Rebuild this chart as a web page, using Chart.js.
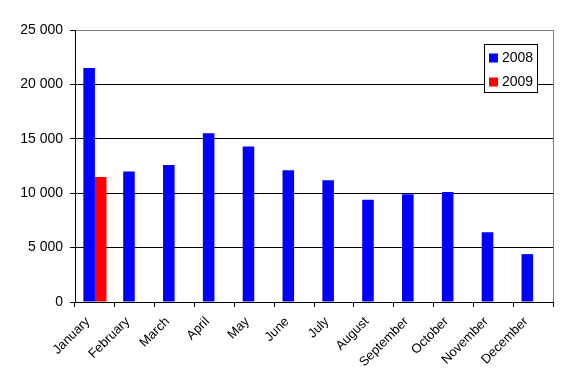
<!DOCTYPE html>
<html>
<head>
<meta charset="utf-8">
<script src="https://cdn.jsdelivr.net/npm/chart.js@4/dist/chart.umd.min.js"></script>
<style>
  html, body { margin: 0; padding: 0; background: #fff; }
  #wrap { width: 569px; height: 388px; }
</style>
</head>
<body>
<div id="wrap"><canvas id="salesChart" width="569" height="388"></canvas></div>
<script>
const months = ['January', 'February', 'March', 'April', 'May', 'June',
    'July', 'August', 'September', 'October', 'November', 'December'];
const sales2008 = [21500, 12000, 12600, 15500, 14300, 12100, 11200, 9400, 9900, 10100, 6400, 4400];
const sales2009 = [11500, null, null, null, null, null, null, null, null, null, null, null];
const yTicks = [0, 5000, 10000, 15000, 20000, 25000];

const fmt = v => String(v).replace(/\B(?=(\d{3})+(?!\d))/g, ' ');

// legend box sitting inside the plot, top right
const boxLegend = {
    id: 'boxLegend',
    afterDraw(chart) {
        const ctx = chart.ctx;
        const area = chart.chartArea;
        ctx.save();
        // gray right border of the plot
        ctx.strokeStyle = '#808080';
        ctx.lineWidth = 1;
        ctx.beginPath();
        ctx.moveTo(area.right + 0.5, area.top);
        ctx.lineTo(area.right + 0.5, area.bottom);
        ctx.stroke();

        const x = 484.5, y = 44.5, w = 53, h = 48;
        ctx.fillStyle = '#fff';
        ctx.fillRect(x, y, w, h);
        ctx.strokeStyle = '#000';
        ctx.strokeRect(x, y, w, h);
        ctx.font = '14px "Liberation Sans", Arial, sans-serif';
        ctx.textBaseline = 'middle';
        chart.data.datasets.forEach((ds, i) => {
            const cy = 57.5 + i * 24;
            ctx.fillStyle = ds.backgroundColor;
            ctx.fillRect(489, cy - 4, 9, 9);
            ctx.fillStyle = '#000';
            ctx.fillText(ds.label, 502, cy + 0.5);
        });
        ctx.restore();
    }
};

const ctx = document.getElementById('salesChart').getContext('2d');
new Chart(ctx, {
    type: 'bar',
    data: {
        labels: months,
        datasets: [
            { label: '2008', data: sales2008, backgroundColor: '#0000ff', borderWidth: 0 },
            { label: '2009', data: sales2009, backgroundColor: '#ff0000', borderWidth: 0 }
        ]
    },
    options: {
        responsive: false,
        animation: false,
        layout: { padding: { top: 30, right: 16, left: 0, bottom: 0 } },
        datasets: { bar: { categoryPercentage: 0.58, barPercentage: 1 } },
        plugins: { legend: { display: false }, tooltip: { enabled: false } },
        scales: {
            x: {
                afterFit: s => { s.height = 86; },
                grid: { display: true, drawOnChartArea: false, drawTicks: true, tickLength: 5, color: '#000' },
                border: { color: '#000' },
                ticks: {
                    color: '#000', minRotation: 45, maxRotation: 45, padding: 7, labelOffset: -7,
                    font: { family: '"Liberation Sans", Arial, sans-serif', size: 13 }
                }
            },
            y: {
                min: 0, max: 25000,
                afterFit: s => { s.width = 75; },
                afterBuildTicks: s => { s.ticks = yTicks.map(v => ({ value: v })); },
                grid: {
                    color: c => (c.tick && c.tick.value === 25000) ? '#808080' : '#000',
                    tickLength: 5, tickColor: '#000'
                },
                border: { color: '#000' },
                ticks: {
                    color: '#000', padding: 7,
                    font: { family: '"Liberation Sans", Arial, sans-serif', size: 14 },
                    callback: v => fmt(v)
                }
            }
        }
    },
    plugins: [boxLegend]
});
</script>
</body>
</html>
